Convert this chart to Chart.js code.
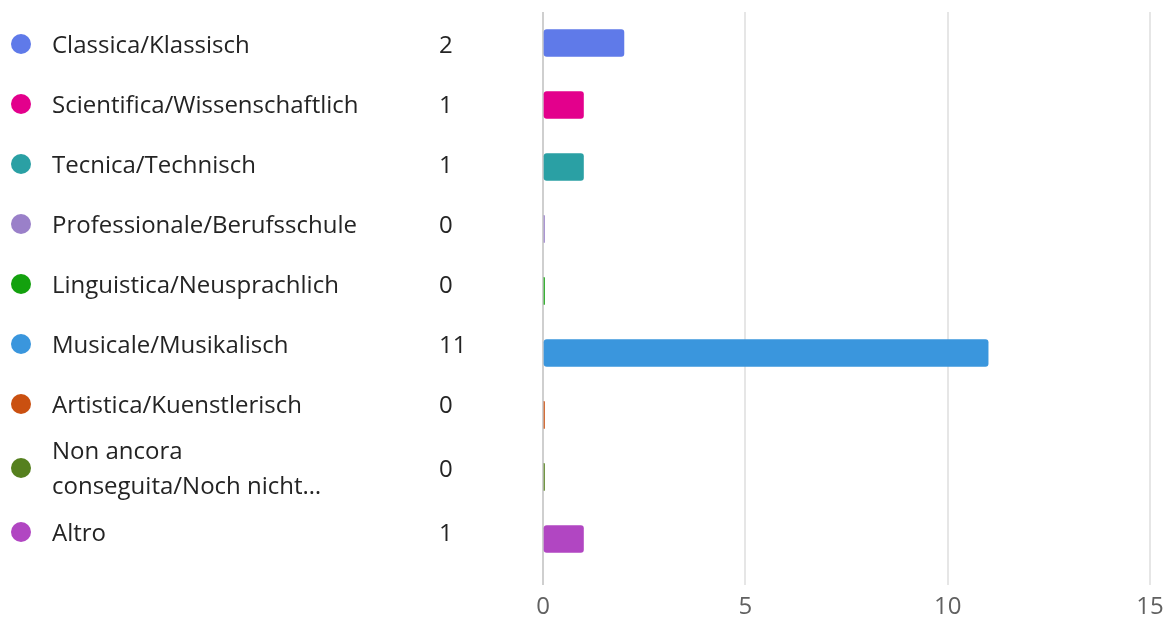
<!DOCTYPE html>
<html>
<head>
<meta charset="utf-8">
<script src="https://cdn.jsdelivr.net/npm/chart.js@4"></script>
<style>
  html, body { margin: 0; padding: 0; background: #fff; }
  #wrap { width: 1176px; height: 617px; }
</style>
</head>
<body>
<div id="wrap"><canvas id="chartScuola"></canvas></div>
<script>
const categories = [
    'Classica/Klassisch',
    'Scientifica/Wissenschaftlich',
    'Tecnica/Technisch',
    'Professionale/Berufsschule',
    'Linguistica/Neusprachlich',
    'Musicale/Musikalisch',
    'Artistica/Kuenstlerisch',
    ['Non ancora', 'conseguita/Noch nicht…'],
    'Altro'
];
const counts = [2, 1, 1, 0, 0, 11, 0, 0, 1];
const colors = ['#5f7ae9', '#e3008c', '#2aa0a4', '#9a80c9', '#13a10e', '#3a96dd', '#ca5010', '#55801e', '#b146c2'];
const xTicks = [0, 5, 10, 15];

const FONT = '"Open Sans", "Noto Sans", sans-serif';

// legend list on the left: dot, label, count
const sideLabels = {
    id: 'sideLabels',
    afterDraw(chart) {
        const ctx = chart.ctx;
        const lineH = 35;
        let top = 14;
        ctx.save();
        ctx.textBaseline = 'middle';
        ctx.font = '24px ' + FONT;
        categories.forEach((cat, i) => {
            const lines = Array.isArray(cat) ? cat : [cat];
            const h = 60 + (lines.length - 1) * 8;
            const cy = top + h / 2;
            ctx.fillStyle = colors[i];
            ctx.beginPath();
            ctx.arc(21, cy, 10, 0, Math.PI * 2);
            ctx.fill();
            ctx.fillStyle = '#242424';
            lines.forEach((ln, j) => {
                ctx.fillText(ln, 52, cy + 2 + (j - (lines.length - 1) / 2) * lineH);
            });
            ctx.fillText(String(counts[i]), 439, cy + 2);
            top += h;
        });
        ctx.restore();
    }
};

new Chart(document.getElementById('chartScuola'), {
    type: 'bar',
    data: {
        labels: categories,
        datasets: [{
            data: counts,
            backgroundColor: colors,
            borderRadius: 3,
            borderSkipped: false,
            barThickness: 27,
            minBarLength: 1.5
        }]
    },
    options: {
        indexAxis: 'y',
        responsive: true,
        maintainAspectRatio: false,
        animation: false,
        layout: { padding: { top: 12, right: 26, left: 0, bottom: 0 } },
        plugins: { legend: { display: false }, tooltip: { enabled: false } },
        scales: {
            x: {
                min: 0,
                max: 15,
                afterBuildTicks: scale => { scale.ticks = xTicks.map(v => ({ value: v })); },
                afterFit: scale => { scale.height = 47; },
                border: { display: false },
                grid: {
                    color: ctx => ctx.tick && ctx.tick.value === 0 ? '#cfcfcf' : '#e6e6e6',
                    lineWidth: 2,
                    tickLength: 15
                },
                ticks: {
                    color: '#616161',
                    font: { size: 24, family: FONT },
                    padding: 8,
                    maxRotation: 0
                }
            },
            y: {
                afterFit: scale => { scale.width = 543; },
                border: { display: false },
                grid: { display: false },
                ticks: { display: false }
            }
        }
    },
    plugins: [sideLabels]
});
</script>
</body>
</html>
